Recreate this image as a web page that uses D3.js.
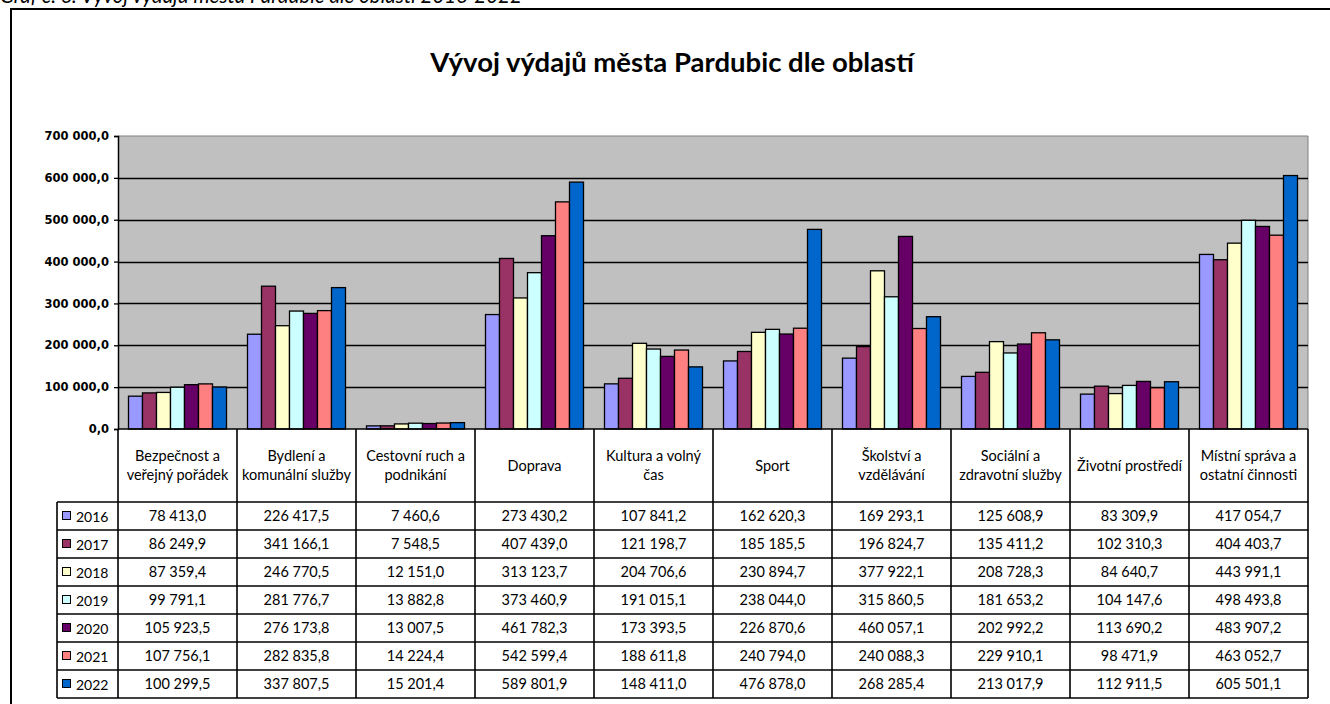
<!DOCTYPE html>
<html><head><meta charset="utf-8">
<script src="https://cdn.jsdelivr.net/npm/d3@7"></script>
<style>
html,body{margin:0;padding:0;background:#fff;}
svg{display:block;}
</style></head>
<body>
<svg id="c" width="1330" height="704"></svg>
<script>
const captionText = "Graf č. 6: Vývoj výdajů města Pardubic dle oblastí 2016-2022";
const titleText = "Vývoj výdajů města Pardubic dle oblastí";
const categories = [
  ["Bezpečnost a","veřejný pořádek"],
  ["Bydlení a","komunální služby"],
  ["Cestovní ruch a","podnikání"],
  ["Doprava"],
  ["Kultura a volný","čas"],
  ["Sport"],
  ["Školství a","vzdělávání"],
  ["Sociální a","zdravotní služby"],
  ["Životní prostředí"],
  ["Místní správa a","ostatní činnosti"]
];
const years = ["2016","2017","2018","2019","2020","2021","2022"];
const colors = ["#9999FF","#993366","#FFFFCC","#CCFFFF","#660066","#FF8080","#0066CC"];
const v2016 = [78413.0,226417.5,7460.6,273430.2,107841.2,162620.3,169293.1,125608.9,83309.9,417054.7];
const v2017 = [86249.9,341166.1,7548.5,407439.0,121198.7,185185.5,196824.7,135411.2,102310.3,404403.7];
const v2018 = [87359.4,246770.5,12151.0,313123.7,204706.6,230894.7,377922.1,208728.3,84640.7,443991.1];
const v2019 = [99791.1,281776.7,13882.8,373460.9,191015.1,238044.0,315860.5,181653.2,104147.6,498493.8];
const v2020 = [105923.5,276173.8,13007.5,461782.3,173393.5,226870.6,460057.1,202992.2,113690.2,483907.2];
const v2021 = [107756.1,282835.8,14224.4,542599.4,188611.8,240794.0,240088.3,229910.1,98471.9,463052.7];
const v2022 = [100299.5,337807.5,15201.4,589801.9,148411.0,476878.0,268285.4,213017.9,112911.5,605501.1];
const series = [v2016,v2017,v2018,v2019,v2020,v2021,v2022];
const yTicks = [0,100000,200000,300000,400000,500000,600000,700000];

const svg = d3.select("#c");
const loc = d3.formatLocale({decimal:",",thousands:" ",grouping:[3],currency:["",""]});
const fmt = loc.format(",.1f");

const L = 118, R = 1308, T = 136, B = 429;
const tableLeft = 57, headerBottom = 502, tableBottom = 698;
const tf = "Lato, 'Open Sans', sans-serif";

// caption (cut off at top, as in the reference)
svg.append("text").attr("x",0).attr("y",3)
  .attr("font-family",tf).attr("font-style","italic").attr("font-size",20.5)
  .text(captionText);

// outer frame
svg.append("path").attr("d",`M11,712 L11,9 L1340,9`).attr("fill","none")
  .attr("stroke","#000").attr("stroke-width",2);

// title
svg.append("text").attr("x",672).attr("y",72).attr("text-anchor","middle")
  .attr("font-family",tf).attr("font-weight","bold").attr("font-size",27.5)
  .text(titleText);

const catIdx = d3.range(categories.length);
const x0 = d3.scaleBand().domain(catIdx).range([L,R]).paddingInner(0).paddingOuter(0);
const x1 = d3.scaleBand().domain(years).range([0,x0.bandwidth()]).paddingInner(0).paddingOuter(0.75);
const y = d3.scaleLinear().domain([0,700000]).range([B,T]);

// plot bg
svg.append("rect").attr("x",L).attr("y",T).attr("width",R-L).attr("height",B-T).attr("fill","#C0C0C0");
svg.append("path").attr("d",`M${L},${T} L${R},${T} L${R},${B}`).attr("fill","none").attr("stroke","#808080").attr("stroke-width",1);

// gridlines
svg.append("g").selectAll("line").data(yTicks.slice(1,-1)).join("line")
  .attr("x1",L).attr("x2",R).attr("y1",d=>Math.round(y(d))+0.5).attr("y2",d=>Math.round(y(d))+0.5)
  .attr("stroke","#000").attr("stroke-width",1.3);

// bars
const gBars = svg.append("g");
series.forEach((vals,si)=>{
  gBars.append("g").selectAll("rect").data(vals).join("rect")
    .attr("x",(d,i)=>x0(i)+x1(years[si]))
    .attr("y",d=>y(d))
    .attr("width",x1.bandwidth())
    .attr("height",d=>B-y(d))
    .attr("fill",colors[si]).attr("stroke","#000").attr("stroke-width",1.3);
});

// y axis
const yAxis = d3.axisLeft(y).tickValues(yTicks).tickFormat(fmt).tickSize(4).tickPadding(5);
const ga = svg.append("g").attr("transform",`translate(${L},0)`).call(yAxis);
ga.select(".domain").attr("stroke","#000").attr("stroke-width",1.5);
ga.selectAll(".tick line").attr("stroke","#000").attr("stroke-width",1.3);
ga.selectAll(".tick text").attr("font-family","'DejaVu Sans', sans-serif").attr("font-weight","bold").attr("font-size",11.5).attr("fill","#000");

// table
const rowH = (tableBottom-headerBottom)/years.length;
const gt = svg.append("g");
const lw = 1.6;
gt.append("line").attr("x1",L).attr("x2",R).attr("y1",B).attr("y2",B).attr("stroke","#000").attr("stroke-width",lw);
d3.range(years.length+1).forEach(r=>{
  const yy = headerBottom + r*rowH;
  gt.append("line").attr("x1",tableLeft).attr("x2",R).attr("y1",yy).attr("y2",yy).attr("stroke","#000").attr("stroke-width",lw);
});
gt.append("line").attr("x1",tableLeft).attr("x2",tableLeft).attr("y1",headerBottom).attr("y2",tableBottom).attr("stroke","#000").attr("stroke-width",lw);
catIdx.concat([categories.length]).forEach(i=>{
  const xx = i<categories.length ? x0(i) : R;
  gt.append("line").attr("x1",xx).attr("x2",xx).attr("y1",B).attr("y2",tableBottom).attr("stroke","#000").attr("stroke-width",lw);
});
// header text
categories.forEach((lines,i)=>{
  const cx = x0(i)+x0.bandwidth()/2;
  const cy = (B+headerBottom)/2;
  const lh = 19;
  const t = gt.append("text").attr("text-anchor","middle").attr("font-family",tf).attr("font-size",14.5).attr("fill","#000");
  lines.forEach((ln,k)=>{
    t.append("tspan").attr("x",cx).attr("y",cy + (k-(lines.length-1)/2)*lh + 5).text(ln);
  });
});
// rows
years.forEach((yr,r)=>{
  const cy = headerBottom + r*rowH + rowH/2;
  gt.append("rect").attr("x",62.5).attr("y",cy-4.5).attr("width",8).attr("height",8)
    .attr("fill",colors[r]).attr("stroke","#000").attr("stroke-width",1);
  gt.append("text").attr("x",76).attr("y",cy+5.5).attr("font-family",tf).attr("font-size",14).text(yr);
  series[r].forEach((v,i)=>{
    gt.append("text").attr("x",x0(i)+x0.bandwidth()/2).attr("y",cy+5).attr("text-anchor","middle")
      .attr("font-family",tf).attr("font-size",14.5).text(fmt(v));
  });
});
</script>
</body></html>
